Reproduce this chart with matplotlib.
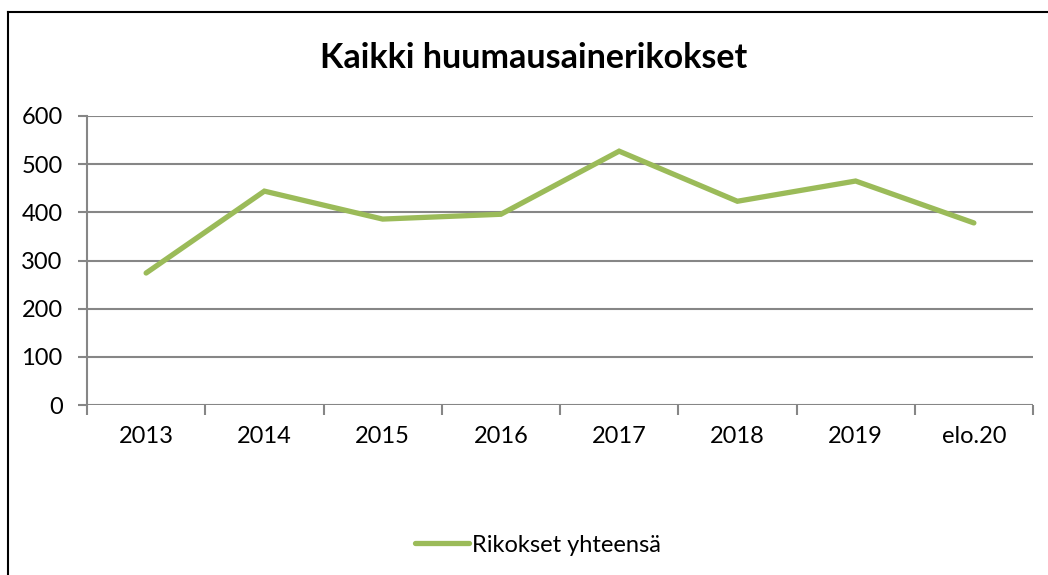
import matplotlib
matplotlib.use("Agg")
import matplotlib.pyplot as plt
from matplotlib.lines import Line2D

categories = ["2013", "2014", "2015", "2016", "2017", "2018", "2019", "elo.20"]
values = [274, 444, 386, 396, 527, 423, 465, 378]
series_name = "Rikokset yhteensä"
title = "Kaikki huumausainerikokset"
yticks = [0, 100, 200, 300, 400, 500, 600]

plt.rcParams['font.family'] = ['Lato', 'DejaVu Sans']

fig = plt.figure(figsize=(10.48, 5.75), dpi=100)
ax = fig.add_axes([87/1048, 1-405/575, (1033-87)/1048, (405-116)/575])

grid_c = "#868686"
n = len(categories)
x = [i + 0.5 for i in range(n)]
ax.plot(x, values, color="#9BBB59", lw=3.8, solid_capstyle="round", solid_joinstyle="miter", zorder=3)

ax.set_xlim(0, n)
ax.set_ylim(0, 600)
ax.set_yticks(yticks)
ax.set_yticklabels([str(v) for v in yticks], fontsize=17)
for v in yticks:
    ax.axhline(v, color=grid_c, lw=1.5, zorder=1)
ax.set_xticks(range(n + 1))
ax.set_xticklabels([])
ax.set_xticks(x, minor=True)
ax.set_xticklabels(categories, minor=True, fontsize=17)
ax.tick_params(axis='x', which='major', length=7, width=1.5, color=grid_c, direction='out')
ax.tick_params(axis='x', which='minor', length=0, pad=15)
ax.tick_params(axis='y', length=6.5, width=1.5, color=grid_c, pad=11)
for s in ["top", "right", "bottom"]:
    ax.spines[s].set_visible(False)
ax.spines["left"].set_color(grid_c)
ax.spines["left"].set_linewidth(1.5)

fig.text(534/1048, 1-58/575, title, ha="center", va="center", fontsize=24.5, fontweight="bold")

h = Line2D([], [], color="#9BBB59", lw=3.8, solid_capstyle="round")
fig.legend([h], [series_name], loc="center", bbox_to_anchor=(538/1048, 1-545/575),
           frameon=False, fontsize=17, handlelength=2.3, handletextpad=0.15)

fig.add_artist(Line2D([8/1048, 8/1048], [0, 1-12/575], transform=fig.transFigure, color="black", lw=1.5))
fig.add_artist(Line2D([8/1048, 1], [1-12/575, 1-12/575], transform=fig.transFigure, color="black", lw=1.5))

fig.savefig("out.png", dpi=100)
